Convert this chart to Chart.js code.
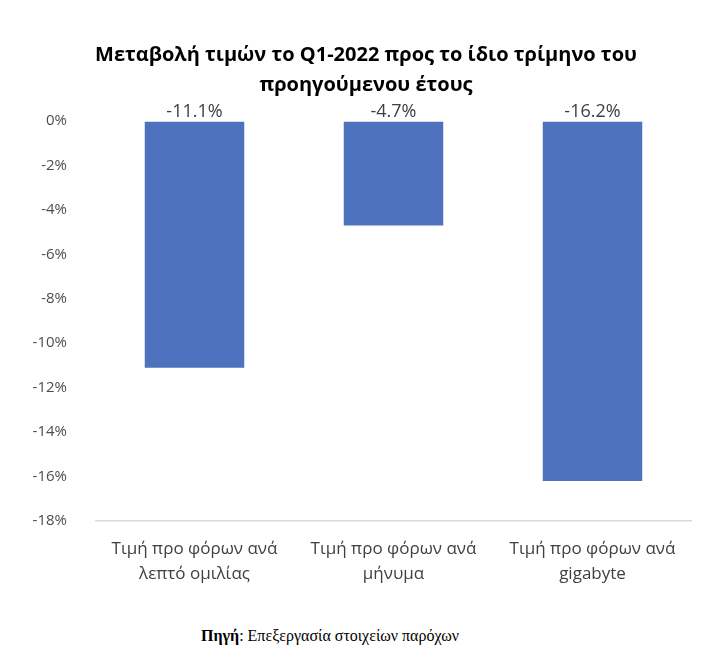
<!DOCTYPE html>
<html>
<head>
<meta charset="utf-8">
<script src="https://cdn.jsdelivr.net/npm/chart.js@4"></script>
<style>
  body { margin: 0; background: #fff; }
  #wrap { position: relative; width: 702px; height: 610px; }
  #source {
    position: absolute; left: 0; top: 627px; width: 660px; text-align: center;
    font-family: "Liberation Serif", "Times New Roman", serif; font-size: 16px; line-height: 18px; color: #000;
  }
</style>
</head>
<body>
<div id="wrap"><canvas id="chart"></canvas></div>
<div id="source"><b>Πηγή</b>: Επεξεργασία στοιχείων παρόχων</div>
<script>
// Data
const categories = [
    ['Τιμή προ φόρων ανά', 'λεπτό ομιλίας'],
    ['Τιμή προ φόρων ανά', 'μήνυμα'],
    ['Τιμή προ φόρων ανά', 'gigabyte']
];
const changes = [-11.1, -4.7, -16.2];
const titleLines = ['Μεταβολή τιμών το Q1-2022 προς το ίδιο τρίμηνο του', 'προηγούμενου έτους'];
const yMin = -18;
const yMax = 0;
const yStep = 2;

const FONT = '"Open Sans", "Noto Sans", sans-serif';

// Title drawn by hand: it sits a bit right of the canvas centre, as in the reference
const titleText = {
    id: 'titleText',
    afterDraw(chart) {
        const ctx = chart.ctx;
        ctx.save();
        ctx.font = 'bold 20px ' + FONT;
        ctx.fillStyle = '#000';
        ctx.textAlign = 'center';
        ctx.textBaseline = 'middle';
        titleLines.forEach((line, i) => ctx.fillText(line, 366, 55 + i * 30));
        ctx.restore();
    }
};

// Draw value labels above the zero line
const valueLabels = {
    id: 'valueLabels',
    afterDatasetsDraw(chart) {
        const ctx = chart.ctx;
        const meta = chart.getDatasetMeta(0);
        ctx.save();
        ctx.font = '18px ' + FONT;
        ctx.fillStyle = '#404040';
        ctx.textAlign = 'center';
        ctx.textBaseline = 'bottom';
        meta.data.forEach((bar, i) => {
            const v = changes[i];
            ctx.fillText(v.toFixed(1) + '%', bar.x, bar.base - 1);
        });
        ctx.restore();
    }
};

new Chart(document.getElementById('chart'), {
    type: 'bar',
    data: {
        labels: categories,
        datasets: [{
            data: changes,
            backgroundColor: '#4e72be',
            borderWidth: 0,
            categoryPercentage: 1,
            barPercentage: 0.5
        }]
    },
    options: {
        responsive: true,
        maintainAspectRatio: false,
        animation: false,
        layout: { padding: { left: 0, right: 10, top: 121, bottom: 0 } },
        plugins: {
            legend: { display: false },
            tooltip: { enabled: false },
            title: { display: false }
        },
        scales: {
            x: {
                grid: { display: false },
                border: { display: false },
                ticks: {
                    color: '#404040',
                    font: { family: FONT, size: 17, lineHeight: 1.45 },
                    padding: 8,
                    maxRotation: 0,
                    autoSkip: false
                },
                afterFit(scale) { scale.height = 89; }
            },
            y: {
                min: yMin,
                max: yMax,
                border: { display: false },
                grid: {
                    drawTicks: false,
                    color: (c) => (c.tick && c.tick.value === yMin ? '#d9d9d9' : 'rgba(0,0,0,0)'),
                    lineWidth: 1.5
                },
                ticks: {
                    stepSize: yStep,
                    color: '#4d4d4d',
                    font: { family: FONT, size: 15 },
                    padding: 28,
                    callback: (v) => v + '%'
                },
                afterFit(scale) { scale.width = 95; }
            }
        }
    },
    plugins: [valueLabels, titleText]
});
</script>
</body>
</html>
